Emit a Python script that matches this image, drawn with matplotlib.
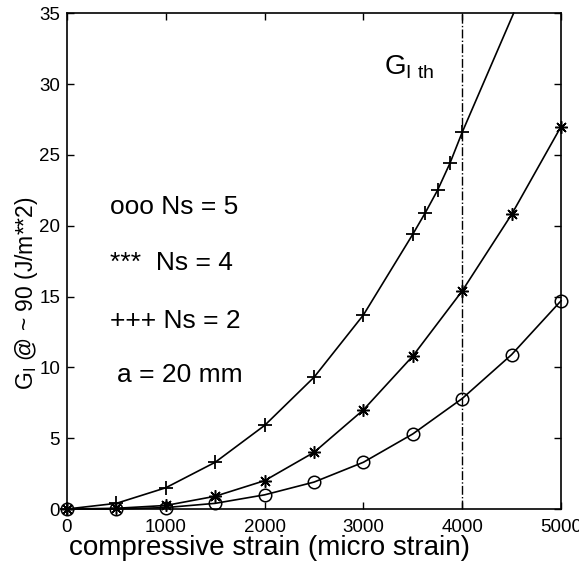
import matplotlib
matplotlib.use("Agg")
import matplotlib.pyplot as plt

plt.rcParams["font.family"] = ["Liberation Sans", "DejaVu Sans"]

# strain values (micro strain)
strain = [0, 500, 1000, 1500, 2000, 2500, 3000, 3500, 4000, 4500, 5000]
g_ns5 = [0.0, 0.0, 0.1, 0.4, 1.0, 1.9, 3.3, 5.3, 7.8, 10.9, 14.7]
g_ns4 = [0.0, 0.05, 0.25, 0.9, 2.0, 4.0, 7.0, 10.8, 15.4, 20.8, 27.0]

strain_ns2 = [0, 500, 1000, 1500, 2000, 2500, 3000, 3500, 3625, 3750, 3875, 4000, 4520]
g_ns2 = [0.0, 0.4, 1.5, 3.3, 5.9, 9.3, 13.7, 19.4, 20.9, 22.5, 24.4, 26.6, 35.0]

threshold_strain = 4000

fig = plt.figure(figsize=(5.79, 5.66), dpi=100)
ax = fig.add_axes([0.1157, 0.1007, 0.8533, 0.876])

lw = 1.2
ax.plot(strain, g_ns5, "-", color="black", lw=lw, marker="o", ms=9,
        mfc="none", mec="black", mew=1.1, clip_on=False)
ax.plot(strain, g_ns4, "-", color="black", lw=lw, marker=(8, 2, 0), ms=9,
        mec="black", mew=1.1, clip_on=False)
ax.plot(strain_ns2, g_ns2, "-", color="black", lw=lw, marker="+", ms=10,
        mec="black", mew=1.3, markevery=list(range(len(strain_ns2) - 1)),
        clip_on=False)
ax.axvline(threshold_strain, color="black", lw=1.0, ls="-.")

ax.set_xlim(0, 5000)
ax.set_ylim(0, 35)
ax.set_xticks(range(0, 5001, 1000))
ax.set_yticks(range(0, 36, 5))
ax.tick_params(direction="in", top=True, right=True, length=5, width=1,
               labelsize=13.5)
ax.tick_params(axis="x", pad=7)
ax.tick_params(axis="y", pad=5)
for sp in ax.spines.values():
    sp.set_linewidth(1.2)

ax.set_xlabel("compressive strain (micro strain)", fontsize=20, va="baseline")
ax.xaxis.set_label_coords(0.41, -0.093)
ax.set_ylabel(r"G$_\mathregular{I}$ @ ~ 90 (J/m**2)", fontsize=16.5, va="center")
ax.yaxis.set_label_coords(-0.081, 0.435)

txt = dict(fontsize=19, color="black", va="center", ha="left")
ax.text(437, 21.3, "ooo Ns = 5", **txt)
ax.text(437, 17.4, "***  Ns = 4", **txt)
ax.text(437, 13.3, "+++ Ns = 2", **txt)
ax.text(508, 9.45, "a = 20 mm", **txt)
ax.text(3208, 31.2, r"G$_\mathregular{I\ th}$", fontsize=20, va="center", ha="left")

fig.savefig("out.png", dpi=100)
